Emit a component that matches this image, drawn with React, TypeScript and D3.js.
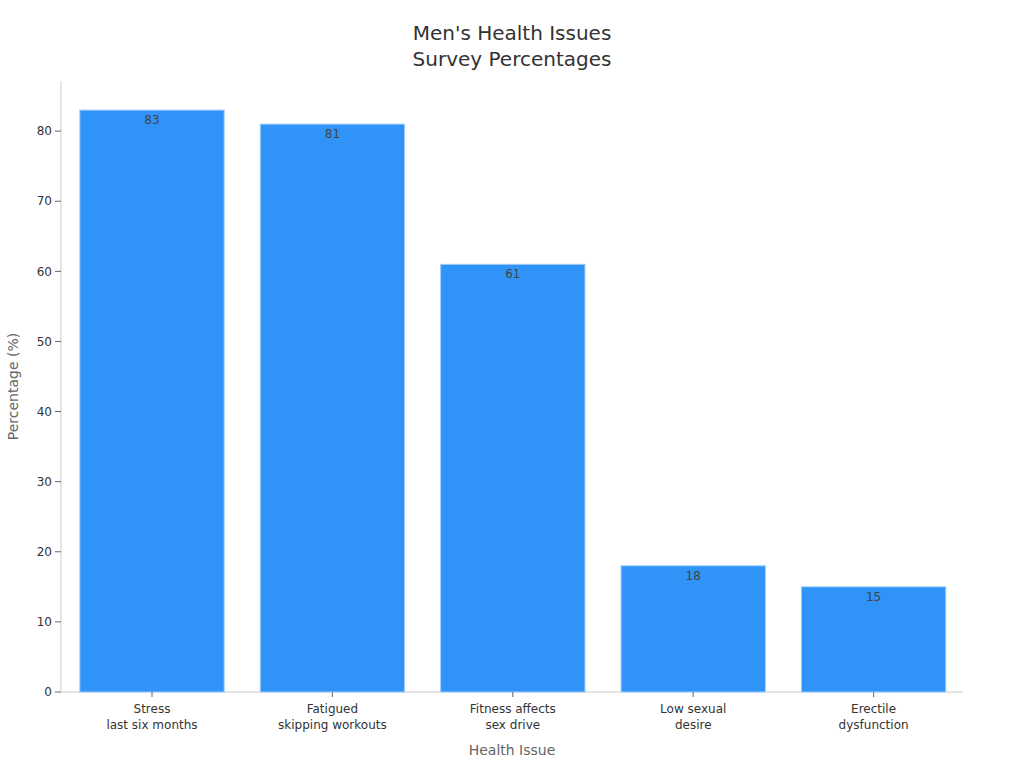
import React from "react";
import * as d3 from "d3";

const categories: string[][] = [
  ["Stress", "last six months"],
  ["Fatigued", "skipping workouts"],
  ["Fitness affects", "sex drive"],
  ["Low sexual", "desire"],
  ["Erectile", "dysfunction"],
];
const values: number[] = [83, 81, 61, 18, 15];
const yTicks: number[] = [0, 10, 20, 30, 40, 50, 60, 70, 80];
const titleLines: string[] = ["Men's Health Issues", "Survey Percentages"];

const W = 1024;
const H = 768;
const margin = { left: 61, right: 61, top: 81, bottom: 76 };
const font = "DejaVu Sans, sans-serif";

export default function App() {
  const x = d3
    .scaleBand<number>()
    .domain(values.map((_, i) => i))
    .range([margin.left + 0.8, W - margin.right + 0.8])
    .paddingInner(0.2)
    .paddingOuter(0.1);
  const y = d3
    .scaleLinear()
    .domain([0, 83 * 1.05])
    .range([H - margin.bottom, margin.top]);
  const y0 = y(0);

  return (
    <svg
      width={W}
      height={H}
      style={{ position: "absolute", left: 0, top: 0, fontFamily: font }}
    >
      <rect width={W} height={H} fill="#fff" />
      {titleLines.map((t, i) => (
        <text
          key={i}
          x={W / 2}
          y={40 + i * 26}
          textAnchor="middle"
          fontSize={20}
          fill="#333"
        >
          {t}
        </text>
      ))}
      <line x1={margin.left} x2={margin.left} y1={y.range()[1]} y2={y0} stroke="#ccc" />
      <line x1={margin.left} x2={W - margin.right} y1={y0} y2={y0} stroke="#ccc" />
      {yTicks.map((t) => (
        <g key={t}>
          <line x1={margin.left - 6} x2={margin.left} y1={y(t)} y2={y(t)} stroke="#666" />
          <text
            x={margin.left - 9}
            y={y(t)}
            dy="0.35em"
            textAnchor="end"
            fontSize={12}
            fill="#333"
          >
            {t}
          </text>
        </g>
      ))}
      {values.map((v, i) => {
        const bx = x(i)!;
        const cx = bx + x.bandwidth() / 2;
        return (
          <g key={i}>
            <rect
              x={bx}
              y={y(v)}
              width={x.bandwidth()}
              height={y0 - y(v)}
              fill="#2f93f7"
              stroke="#9fcdfb"
              strokeWidth={1}
            />
            <text
              x={cx}
              y={y(v) + 14}
              textAnchor="middle"
              fontSize={12}
              fill="#444"
            >
              {v}
            </text>
            <line x1={cx} x2={cx} y1={y0} y2={y0 + 5} stroke="#666" />
            {categories[i].map((l, j) => (
              <text
                key={j}
                x={cx}
                y={y0 + 21 + j * 16}
                textAnchor="middle"
                fontSize={12}
                fill="#333"
              >
                {l}
              </text>
            ))}
          </g>
        );
      })}
      <text x={W / 2} y={755} textAnchor="middle" fontSize={14} fill="#666">
        Health Issue
      </text>
      <text
        transform={`translate(18, ${(y.range()[1] + y0) / 2}) rotate(-90)`}
        textAnchor="middle"
        fontSize={14}
        fill="#666"
      >
        Percentage (%)
      </text>
    </svg>
  );
}
